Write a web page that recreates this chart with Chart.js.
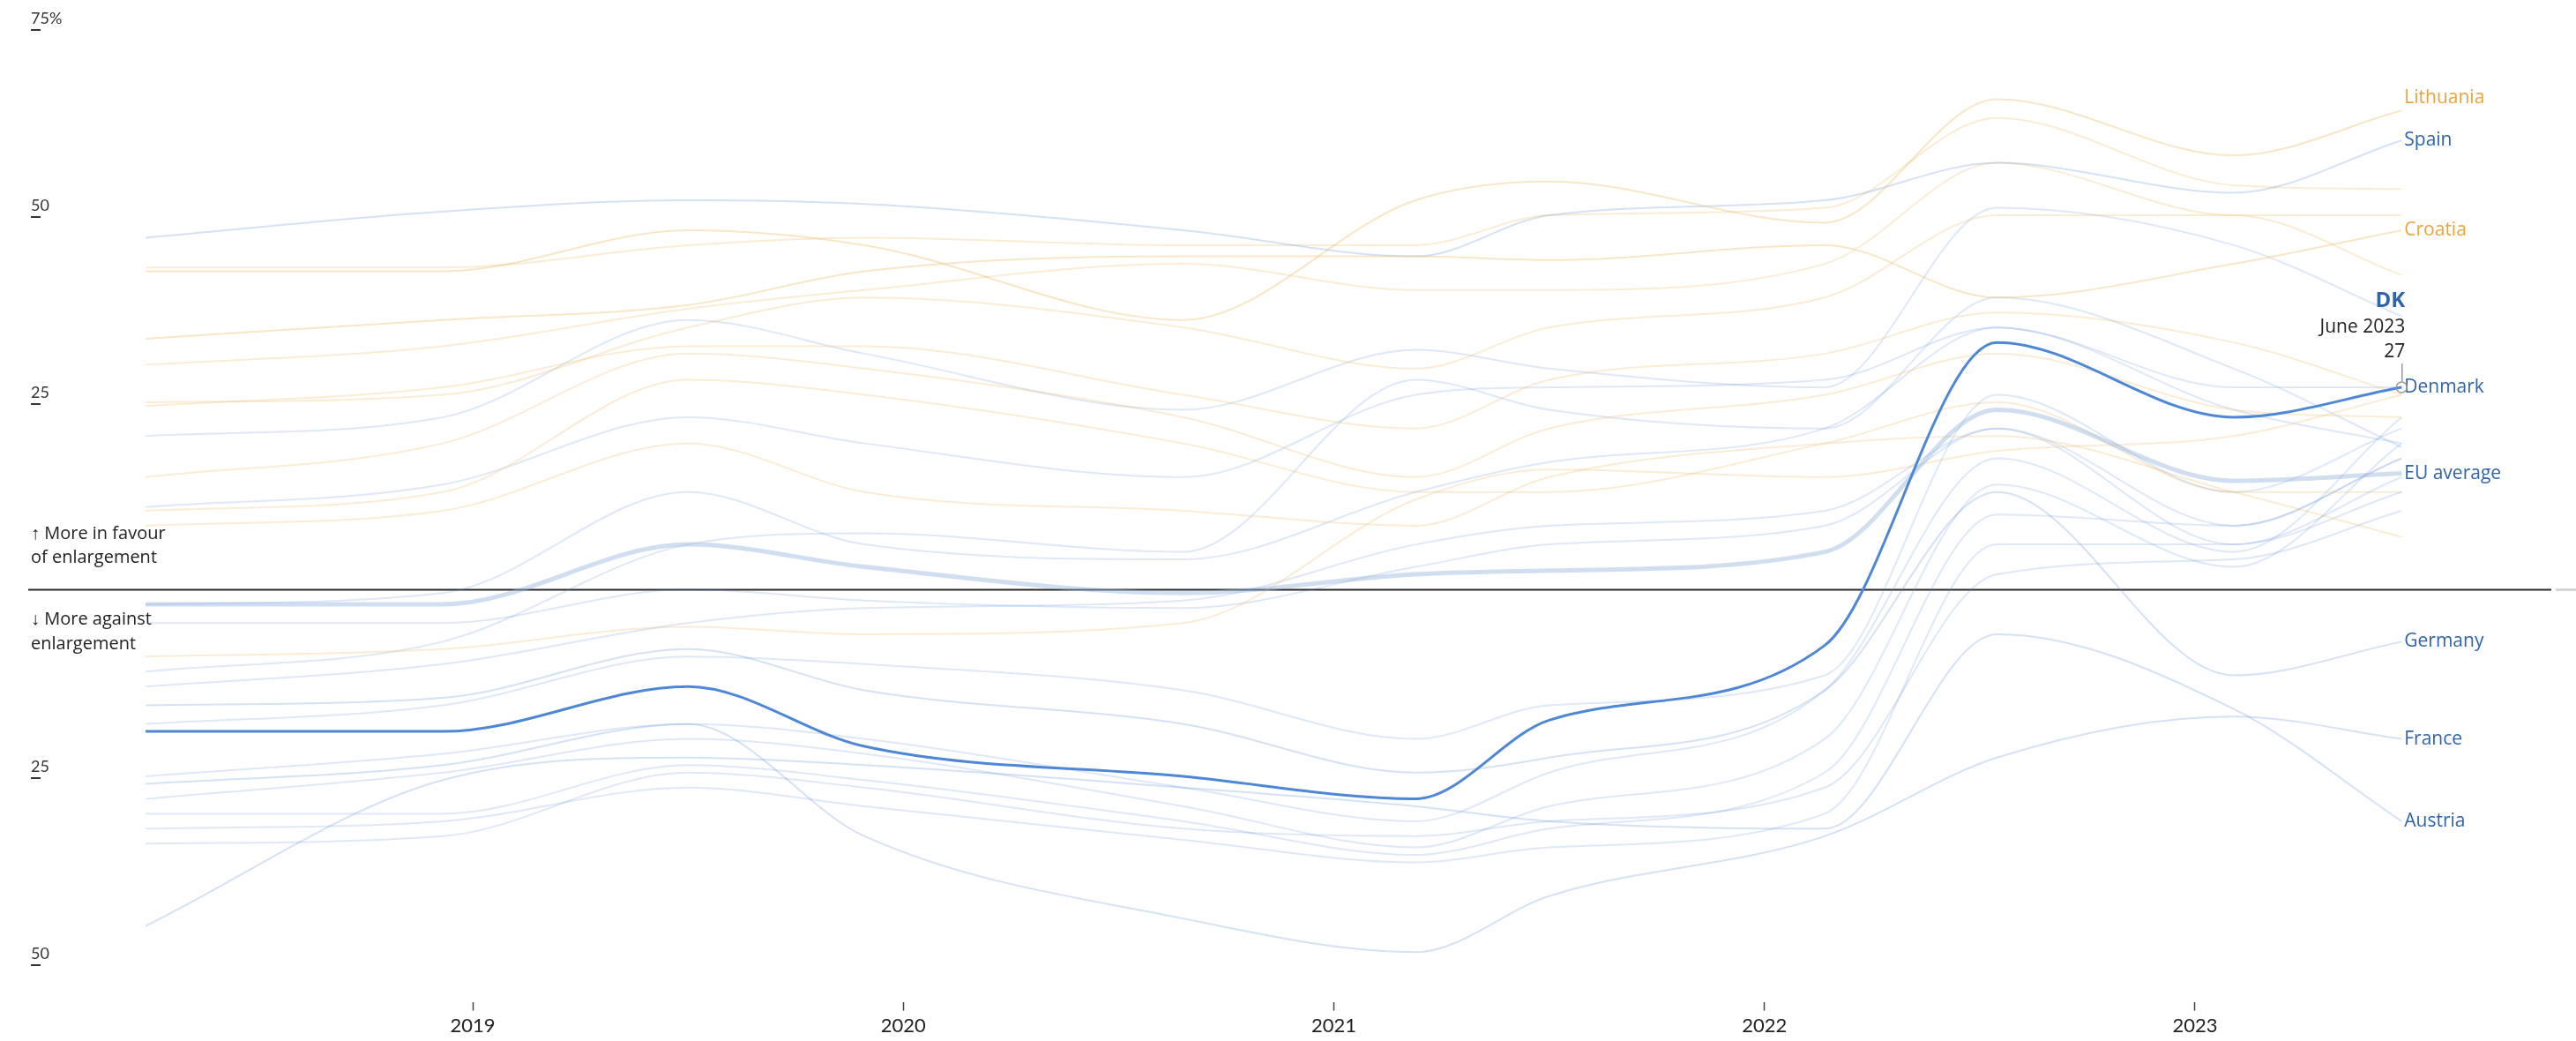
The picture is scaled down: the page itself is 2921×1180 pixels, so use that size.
<!DOCTYPE html>
<html>
<head>
<meta charset="utf-8">
<script src="https://cdn.jsdelivr.net/npm/chart.js@4.4.1/dist/chart.umd.min.js"></script>
<style>
  html, body { margin: 0; padding: 0; background: #fff; }
  #wrap { width: 2921px; height: 1180px; position: relative; }
</style>
</head>
<body>
<div id="wrap"><canvas id="chart"></canvas></div>
<script>
// survey waves (decimal years), Spring 2018 .. June 2023
const waves = [2018.24, 2018.93, 2019.5, 2019.91, 2020.65, 2021.19, 2021.5, 2022.14, 2022.54, 2023.09, 2023.48];
const yearTicks = [2019, 2020, 2021, 2022, 2023];
const yTickValues = [75, 50, 25, -25, -50];
const yTickLabels = ['75%', '50', '25', '25', '50'];

// net support for enlargement (% in favour minus % against)
const denmark   = [-19, -19, -13, -21, -25, -28, -17.5, -7.5, 33, 23, 27];
const euAverage = [-2, -2, 6, 3, -0.5, 2, 2.5, 5, 24, 14.5, 15.5];
const spain     = [47, 50.5, 52, 51.5, 48, 44.5, 50, 52, 57, 53, 60];
const germany   = [-15.5, -14.5, -8, -13.5, -18, -24.5, -22.5, -13.5, 13, -11.5, -7];
const france    = [-26, -23.5, -18, -33, -44, -48.5, -41, -33, -22.5, -17, -20];
const austria   = [-45, -25.5, -22.5, -23.5, -26.5, -29, -31, -32, -6, -16, -31];
const lithuania = [42.5, 42.5, 48, 46, 36, 52, 54.5, 49, 65.5, 58, 64];
const croatia   = [33.5, 36, 38, 42.5, 44.5, 44.5, 44, 46, 39, 43.5, 48];

// other member states (unlabelled in the chart)
const otherOrange = [
  [43, 43, 46, 47, 46, 46, 50, 51, 63, 54, 53.5],
  [30, 32.5, 37.5, 40, 43.5, 40, 40, 43.5, 57, 50, 50],
  [25, 26, 35, 39, 35, 29.5, 35, 39, 50, 50, 42],
  [24.5, 27, 32.5, 32.5, 26, 21.5, 28, 31.5, 37, 33, 26],
  [15, 19.5, 31.5, 29.5, 23, 15, 21.5, 26, 31.5, 24, 23],
  [10.5, 13, 28, 26, 19.5, 13, 13, 19.5, 25, 13, 13],
  [8.5, 10.5, 19.5, 13, 10.5, 8.5, 15, 19.5, 20.5, 13, 7],
  [-9, -8, -5, -6, -4.5, 12, 16, 15, 18.5, 20.5, 26]
];
const otherBlue = [
  [20.5, 23, 36, 31.5, 24, 32, 29.5, 27, 51, 46, 36.5],
  [11, 14, 23, 19.5, 15, 26, 27, 28, 35, 27, 27],
  [-2, -0.5, 13, 6, 4, 13, 17, 21.5, 35, 24, 19.5],
  [-11, -7, 6, 7.5, 5, 28, 24, 21.5, 39, 29.5, 19],
  [-13, -10, -4.5, -2.5, -1.5, 6, 8.5, 10.5, 21.5, 8.5, 17.5],
  [-25, -22, -18, -20, -26.5, -31, -24.5, -13.5, 17.5, 5, 23],
  [-28, -24.5, -20, -22, -29, -34.5, -29, -20, 14, 3, 19.5],
  [-30, -30, -23.5, -25.5, -31, -35.5, -32, -24.5, 10, 8.5, 17.5],
  [-32, -31, -26.5, -29, -33.5, -36.5, -34.5, -30, 6, 6, 13],
  [-34, -33, -24.5, -26.5, -32, -33, -31, -26.5, 2, 4, 10.5],
  [-4.5, -4.5, 0, -1.5, -2.5, 3, 6, 8.5, 21.5, 6, 15],
  [-18, -15.5, -9, -10, -13.5, -20, -15.5, -11.5, 26, 13, 21.5]
];

const BLUE_FAINT = 'rgba(92, 140, 214, 0.2)';
const ORANGE_FAINT = 'rgba(236, 183, 92, 0.26)';
const BLUE_TEXT = '#2f64ab';
const ORANGE_TEXT = '#eba43c';

function pts(arr) {
  return arr.map((v, i) => ({ x: waves[i], y: v }));
}

function line(data, color, width, order, extra) {
  return Object.assign({
    data: pts(data),
    borderColor: color,
    borderWidth: width,
    pointRadius: 0,
    fill: false,
    cubicInterpolationMode: 'monotone',
    order: order
  }, extra || {});
}

const datasets = [];
otherOrange.forEach(a => datasets.push(line(a, ORANGE_FAINT, 2, 5)));
otherBlue.forEach(a => datasets.push(line(a, BLUE_FAINT, 2, 5)));
datasets.push(line(lithuania, 'rgba(236, 183, 92, 0.35)', 2, 4, { tag: 'Lithuania', tagColor: ORANGE_TEXT, tagDy: -14 }));
datasets.push(line(croatia, 'rgba(236, 183, 92, 0.35)', 2, 4, { tag: 'Croatia', tagColor: ORANGE_TEXT }));
datasets.push(line(spain, 'rgba(92, 140, 214, 0.26)', 2, 4, { tag: 'Spain', tagColor: BLUE_TEXT }));
datasets.push(line(germany, 'rgba(92, 140, 214, 0.26)', 2, 4, { tag: 'Germany', tagColor: BLUE_TEXT }));
datasets.push(line(france, 'rgba(92, 140, 214, 0.26)', 2, 4, { tag: 'France', tagColor: BLUE_TEXT }));
datasets.push(line(austria, 'rgba(92, 140, 214, 0.26)', 2, 4, { tag: 'Austria', tagColor: BLUE_TEXT }));
datasets.push(line(euAverage, 'rgba(150, 182, 222, 0.45)', 5, 1, { tag: 'EU average', tagColor: BLUE_TEXT }));
datasets.push(line(denmark, '#4d87d6', 3, 0, { tag: 'Denmark', tagColor: BLUE_TEXT, isDK: true }));

const overlay = {
  id: 'overlay',
  beforeDatasetsDraw(chart) {
    const ctx = chart.ctx, y = chart.scales.y;
    const y0 = Math.round(y.getPixelForValue(0)) + 0.5;
    ctx.save();
    ctx.strokeStyle = '#2a2a2a';
    ctx.lineWidth = 2;
    ctx.beginPath(); ctx.moveTo(32, y0); ctx.lineTo(2893, y0); ctx.stroke();
    ctx.strokeStyle = '#d5d5d5';
    ctx.lineWidth = 3;
    ctx.beginPath(); ctx.moveTo(2898, y0); ctx.lineTo(2921, y0); ctx.stroke();

    // y tick labels with underline
    ctx.fillStyle = '#333';
    ctx.font = '18px Lato';
    ctx.textAlign = 'left';
    ctx.textBaseline = 'alphabetic';
    yTickValues.forEach((v, i) => {
      const py = y.getPixelForValue(v);
      ctx.fillText(yTickLabels[i], 35, py - 5);
      ctx.fillRect(35, py + 1, 11, 2);
    });

    // direction notes
    ctx.fillStyle = '#222';
    ctx.font = '20px "Open Sans"';
    ctx.textBaseline = 'middle';
    ctx.fillText('\u2191 More in favour', 35, y0 - 63);
    ctx.fillText('of enlargement', 35, y0 - 36);
    ctx.fillText('\u2193 More against', 35, y0 + 34);
    ctx.fillText('enlargement', 35, y0 + 62);
    ctx.restore();
  },
  afterDatasetsDraw(chart) {
    const ctx = chart.ctx;
    ctx.save();
    ctx.textAlign = 'left';
    ctx.textBaseline = 'middle';
    chart.data.datasets.forEach((ds, i) => {
      if (!ds.tag) return;
      const meta = chart.getDatasetMeta(i);
      const p = meta.data[meta.data.length - 1];
      ctx.fillStyle = ds.tagColor;
      ctx.font = '21px "Open Sans"';
      ctx.fillText(ds.tag, p.x + 3, p.y + (ds.tagDy || 0));
      if (ds.isDK) {
        ctx.strokeStyle = '#999';
        ctx.lineWidth = 1.5;
        ctx.beginPath(); ctx.arc(p.x, p.y, 6, 0, Math.PI * 2); ctx.stroke();
        ctx.beginPath(); ctx.moveTo(p.x + 0.5, p.y - 27); ctx.lineTo(p.x + 0.5, p.y - 7); ctx.stroke();
        ctx.textAlign = 'right';
        ctx.fillStyle = BLUE_TEXT;
        ctx.font = 'bold 24px "Open Sans"';
        ctx.fillText('DK', p.x + 4, p.y - 98);
        ctx.fillStyle = '#222';
        ctx.font = '21px "Open Sans"';
        ctx.fillText('June 2023', p.x + 4, p.y - 68);
        ctx.fillText(String(denmark[denmark.length - 1]), p.x + 4, p.y - 40);
        ctx.textAlign = 'left';
      }
    });
    ctx.restore();
  }
};

Chart.defaults.font.family = 'Lato';

new Chart(document.getElementById('chart'), {
  type: 'line',
  data: { datasets: datasets },
  options: {
    responsive: true,
    maintainAspectRatio: false,
    animation: false,
    events: [],
    layout: { padding: { left: 0, right: 0, top: 0, bottom: 0 } },
    plugins: { legend: { display: false }, tooltip: { enabled: false } },
    scales: {
      x: {
        type: 'linear',
        min: 2017.902,
        max: 2023.885,
        afterBuildTicks: axis => { axis.ticks = yearTicks.map(v => ({ value: v })); },
        grid: { drawOnChartArea: false, drawTicks: true, tickLength: 10, tickColor: '#444', tickWidth: 1.5 },
        border: { display: false },
        ticks: {
          autoSkip: false, maxRotation: 0, padding: 4, color: '#222',
          font: { size: 22, family: 'Lato' },
          callback: v => String(v)
        }
      },
      y: {
        display: false,
        min: -55.14,
        max: 78.77
      }
    }
  },
  plugins: [overlay]
});
</script>
</body>
</html>
